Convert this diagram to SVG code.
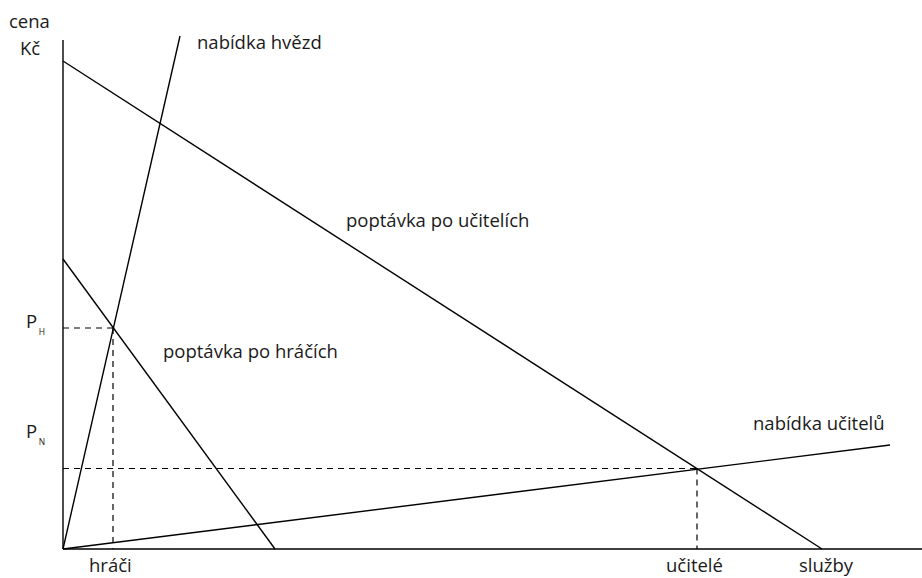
<svg xmlns="http://www.w3.org/2000/svg" width="922" height="578" viewBox="0 0 922 578">
<style>
text{font-family:"Open Sans","Noto Sans","Liberation Sans",sans-serif;font-size:18.5px;fill:#1a1a1a}
.sub{font-size:8.5px}
.ln{stroke:#000;stroke-width:1.4;fill:none}
.dash{stroke:#000;stroke-width:1.2;stroke-dasharray:6 5;fill:none}
</style>
<rect width="922" height="578" fill="#fff"/>
<g id="axes">
<line class="ln" x1="63" y1="40" x2="63" y2="549"/>
<line class="ln" x1="63" y1="549" x2="922" y2="549"/>
<text x="9" y="28">cena</text>
<text x="20" y="55">Kč</text>
<text x="799" y="572">služby</text>
</g>
<g id="connectors">
<line class="dash" x1="63" y1="328" x2="113" y2="328"/>
<line class="dash" x1="113" y1="328" x2="113" y2="549"/>
<line class="dash" x1="63" y1="468.5" x2="697" y2="468.5"/>
<line class="dash" x1="697" y1="468.5" x2="697" y2="549"/>
</g>
<g id="nabidka-hvezd">
<line class="ln" x1="63" y1="549" x2="180" y2="36"/>
<text x="197" y="49">nabídka hvězd</text>
</g>
<g id="poptavka-po-ucitelich">
<line class="ln" x1="63" y1="61" x2="822" y2="549"/>
<text x="346" y="227">poptávka po učitelích</text>
</g>
<g id="poptavka-po-hracich">
<line class="ln" x1="63" y1="259" x2="275" y2="549"/>
<text x="163" y="358">poptávka po hráčích</text>
</g>
<g id="nabidka-ucitelu">
<line class="ln" x1="63" y1="549" x2="890" y2="445"/>
<text x="753" y="430">nabídka učitelů</text>
</g>
<g id="PH">
<text x="26" y="328">P<tspan class="sub" dx="1.5" dy="7">H</tspan></text>
</g>
<g id="PN">
<text x="26" y="438">P<tspan class="sub" dx="1.5" dy="7">N</tspan></text>
</g>
<g id="hraci"><text x="89" y="572">hráči</text></g>
<g id="ucitele"><text x="666" y="572">učitelé</text></g>
</svg>
